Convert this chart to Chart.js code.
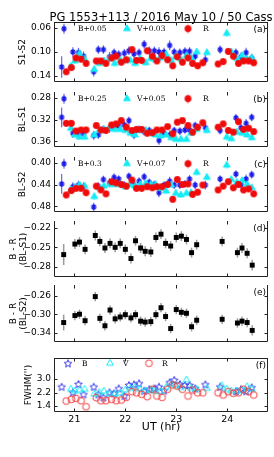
<!DOCTYPE html>
<html>
<head>
<meta charset="utf-8">
<script src="https://cdn.jsdelivr.net/npm/chart.js@4.4.0/dist/chart.umd.min.js"></script>
<style>
  html, body { margin: 0; padding: 0; background: #fff; }
  #wrap { position: relative; width: 274px; height: 457px; overflow: hidden; }
  canvas { position: absolute; left: 0; }
</style>
</head>
<body>
<div id="wrap">
  <canvas id="pa" width="274" height="87" style="top:0px"></canvas>
  <canvas id="pb" width="274" height="65" style="top:87px"></canvas>
  <canvas id="pc" width="274" height="65" style="top:152px"></canvas>
  <canvas id="pd" width="274" height="64" style="top:217px"></canvas>
  <canvas id="pe" width="274" height="65" style="top:281px"></canvas>
  <canvas id="pf" width="274" height="107" style="top:350px"></canvas>
</div>
<script>
// ---- observation times (UT, hr) ----
const tB = [20.75, 20.89, 20.97, 21.08, 21.18, 21.38, 21.47, 21.57, 21.69, 21.78, 21.87, 21.98, 22.07, 22.17, 22.27, 22.37, 22.47, 22.57, 22.66, 22.76, 22.87, 22.96, 23.07, 23.17, 23.26, 23.37, 23.57, 23.77, 23.86, 23.97, 24.07, 24.17, 24.27, 24.37, 24.48];
const tV = [20.81, 20.93, 21.01, 21.10, 21.20, 21.39, 21.49, 21.58, 21.69, 21.79, 21.90, 22.00, 22.10, 22.19, 22.29, 22.40, 22.50, 22.59, 22.69, 22.80, 22.90, 22.99, 23.09, 23.20, 23.29, 23.40, 23.60, 23.79, 23.89, 23.99, 24.08, 24.19, 24.29, 24.39, 24.48];
const tR = [20.84, 20.94, 21.03, 21.13, 21.23, 21.43, 21.52, 21.62, 21.73, 21.82, 21.92, 22.02, 22.13, 22.22, 22.32, 22.43, 22.53, 22.62, 22.72, 22.83, 22.93, 23.02, 23.12, 23.23, 23.32, 23.42, 23.52, 23.82, 23.92, 24.02, 24.12, 24.22, 24.32, 24.42, 24.52];
const tBR = [20.79, 21.01, 21.10, 21.21, 21.41, 21.50, 21.60, 21.70, 21.80, 21.90, 22.00, 22.11, 22.20, 22.30, 22.39, 22.50, 22.60, 22.70, 22.79, 22.89, 23.00, 23.10, 23.20, 23.30, 23.40, 23.90, 24.20, 24.29, 24.39, 24.49];

// ---- (a) S1-S2 ----
const bA = [0.125, null, 0.100, 0.101, 0.107, 0.133, 0.096, 0.096, 0.108, 0.101, 0.104, 0.102, 0.098, 0.103, 0.101, 0.087, 0.098, 0.098, 0.100, 0.100, 0.089, 0.100, 0.101, 0.099, 0.099, 0.107, 0.113, null, 0.096, null, null, 0.101, 0.108, 0.101, 0.110];
const vA = [null, 0.124, 0.115, 0.103, 0.112, 0.129, 0.119, 0.115, 0.111, 0.119, 0.114, 0.114, 0.114, 0.119, 0.111, 0.118, 0.111, 0.113, 0.110, 0.104, 0.114, 0.108, 0.112, 0.106, 0.110, 0.100, 0.101, null, null, 0.069, 0.100, 0.111, 0.106, 0.112, 0.110];
const rA = [0.133, 0.126, 0.110, 0.112, 0.119, 0.115, 0.115, 0.119, 0.110, 0.107, 0.117, 0.113, 0.096, 0.114, 0.114, 0.098, 0.107, 0.115, 0.106, 0.113, 0.123, 0.108, 0.117, 0.110, 0.119, 0.123, 0.118, 0.120, 0.116, 0.099, 0.107, 0.119, 0.115, 0.115, 0.118];

// ---- (b) BL-S1 ----
const bB = [0.316, null, 0.345, 0.348, 0.346, 0.349, 0.348, 0.338, 0.336, 0.333, 0.332, 0.330, 0.322, 0.348, 0.338, 0.342, 0.340, 0.344, 0.358, 0.345, 0.348, 0.340, 0.341, 0.339, 0.339, 0.331, 0.335, null, 0.340, null, null, 0.317, 0.335, 0.327, 0.316];
const vB = [null, 0.336, 0.348, 0.352, 0.352, 0.348, 0.340, 0.338, 0.336, 0.338, 0.338, 0.340, 0.345, 0.348, 0.340, 0.340, 0.345, 0.348, 0.350, 0.348, 0.353, 0.356, 0.356, 0.356, 0.345, 0.338, 0.340, null, null, 0.352, 0.355, 0.343, 0.345, 0.348, 0.353];
const rB = [0.327, 0.327, 0.341, 0.339, 0.339, 0.331, 0.339, 0.340, 0.330, 0.328, 0.322, 0.334, 0.340, 0.338, 0.338, 0.345, 0.344, 0.339, 0.339, 0.333, 0.346, 0.325, 0.322, 0.331, 0.343, 0.334, 0.326, 0.334, 0.328, 0.340, 0.343, 0.324, 0.338, 0.336, 0.342];

// ---- (c) BL-S2 ----
const bC = [0.439, null, 0.444, 0.441, 0.444, 0.481, 0.443, 0.431, 0.437, 0.427, 0.430, 0.441, 0.425, 0.441, 0.434, 0.426, 0.436, 0.440, 0.455, 0.441, 0.434, 0.441, 0.441, 0.439, 0.430, 0.441, 0.441, null, 0.430, null, null, 0.421, 0.440, 0.430, 0.422];
const vC = [null, 0.450, 0.445, 0.441, 0.443, 0.462, 0.446, 0.443, 0.440, 0.440, 0.440, 0.444, 0.440, 0.443, 0.440, 0.438, 0.440, 0.440, 0.447, 0.452, 0.441, 0.456, 0.459, 0.456, 0.455, 0.418, 0.427, null, null, 0.405, 0.431, 0.436, 0.433, 0.440, 0.446];
const rC = [0.459, 0.451, 0.447, 0.447, 0.455, 0.443, 0.450, 0.457, 0.435, 0.437, 0.440, 0.443, 0.432, 0.447, 0.447, 0.444, 0.446, 0.444, 0.444, 0.440, 0.467, 0.431, 0.440, 0.439, 0.458, 0.454, 0.441, 0.450, 0.443, 0.435, 0.446, 0.440, 0.450, 0.448, 0.457];

// error bars for the differential light curves
const errB = [0.018, null, 0.008, 0.008, 0.008, 0.008, 0.007, 0.007, 0.008, 0.007, 0.007, 0.007, 0.007, 0.008, 0.007, 0.007, 0.007, 0.007, 0.008, 0.007, 0.008, 0.007, 0.007, 0.007, 0.007, 0.007, 0.008, null, 0.007, null, null, 0.007, 0.007, 0.008, 0.007];
const errV = [null, 0.005, 0.005, 0.005, 0.005, 0.006, 0.005, 0.005, 0.005, 0.005, 0.005, 0.005, 0.005, 0.005, 0.005, 0.005, 0.005, 0.005, 0.005, 0.005, 0.005, 0.005, 0.005, 0.005, 0.005, 0.005, 0.005, null, null, 0.006, 0.005, 0.005, 0.005, 0.005, 0.005];
const errR = [0.005, 0.005, 0.005, 0.005, 0.005, 0.005, 0.005, 0.005, 0.005, 0.005, 0.005, 0.005, 0.005, 0.005, 0.005, 0.005, 0.005, 0.005, 0.005, 0.005, 0.005, 0.005, 0.005, 0.005, 0.005, 0.005, 0.005, 0.005, 0.005, 0.005, 0.005, 0.005, 0.005, 0.005, 0.005];

// ---- (d), (e) B - R colours ----
const brS1 = [-0.261, -0.245, -0.242, -0.253, -0.232, -0.241, -0.251, -0.244, -0.250, -0.244, -0.253, -0.267, -0.240, -0.251, -0.256, -0.257, -0.235, -0.230, -0.244, -0.248, -0.235, -0.233, -0.238, -0.258, -0.246, -0.241, -0.258, -0.251, -0.259, -0.277];
const errS1 = [0.016, 0.0075, 0.0075, 0.0075, 0.0075, 0.0075, 0.0075, 0.0075, 0.0075, 0.0075, 0.0075, 0.0075, 0.0075, 0.0075, 0.0075, 0.0075, 0.0075, 0.0075, 0.0075, 0.0075, 0.0075, 0.0075, 0.0075, 0.0075, 0.0075, 0.0075, 0.0075, 0.0075, 0.0075, 0.008];
const brS2 = [-0.318, -0.303, -0.300, -0.314, -0.262, -0.309, -0.325, -0.291, -0.310, -0.306, -0.301, -0.308, -0.301, -0.315, -0.317, -0.316, -0.301, -0.286, -0.305, -0.331, -0.290, -0.296, -0.298, -0.327, -0.313, -0.311, -0.319, -0.315, -0.318, -0.335];
const errS2 = [0.017, 0.010, 0.010, 0.010, 0.010, 0.010, 0.010, 0.010, 0.010, 0.010, 0.010, 0.010, 0.010, 0.010, 0.010, 0.010, 0.010, 0.010, 0.010, 0.010, 0.010, 0.010, 0.010, 0.010, 0.010, 0.010, 0.010, 0.010, 0.010, 0.011];

// ---- (f) seeing ----
const fwhmB = [2.55, null, 2.22, 2.71, 2.10, 2.55, 2.10, 1.92, 2.22, 2.16, 2.45, 2.02, 2.65, 2.69, 2.75, 2.31, 2.40, 2.45, 2.55, 2.33, 2.81, 2.95, 2.71, 2.65, 2.65, 2.45, 2.69, null, 2.55, null, null, 2.29, 2.40, 2.29, 2.51];
const fwhmV = [null, 2.40, 2.29, 2.35, 2.40, 2.12, 2.20, 2.29, 2.12, 2.12, 2.16, 2.35, 2.45, 2.51, 2.40, 2.31, 2.35, 2.29, 2.25, 2.51, 2.69, 2.61, 2.51, 2.95, 2.45, 2.40, 2.45, null, 2.61, 2.40, 2.29, 2.29, 2.35, 2.55, 2.40];
const fwhmR = [1.70, 1.80, 1.86, 1.72, 1.36, 1.90, 1.72, 1.72, 1.80, 1.72, 1.76, 1.92, 2.25, 2.19, 2.10, 1.96, 2.40, 2.00, 1.92, 2.40, 2.65, 2.59, 2.40, 2.00, 2.35, 2.19, 2.19, 2.19, 2.06, 2.25, 2.16, 2.19, 2.40, 2.25, 2.06];

// ---- ticks ----
const xTicks = [21, 22, 23, 24];
const yTicksA = [0.06, 0.10, 0.14];
const yTicksB = [0.28, 0.32, 0.36];
const yTicksC = [0.40, 0.44, 0.48];
const yTicksD = [-0.22, -0.25, -0.28];
const yTicksE = [-0.26, -0.30, -0.34];
const yTicksF = [1.4, 2.2, 3.0];

const BLUE = "rgb(20,20,235)";
const CYAN = "rgb(20,235,245)";
const RED = "rgb(240,10,10)";
const STAR_BLUE = "rgb(60,60,235)";
const RED_OPEN = "rgb(245,60,60)";

Chart.defaults.font.family = "'DejaVu Sans', sans-serif";
Chart.defaults.color = "#000";

function pts(xs, ys, es) {
  return xs.map((x, i) => ({ x, y: ys[i], e: es ? es[i] : null }))
    .filter((p) => p.y !== null && p.y !== undefined);
}

// small marker sprites: used both as pointStyle and as legend handles
function sprite(kind, color, r, opts = {}) {
  const c = document.createElement("canvas");
  const s = Math.ceil(r * 2 + 4);
  c.width = s;
  c.height = s;
  const g = c.getContext("2d");
  const cx = s / 2, cy = s / 2;
  g.strokeStyle = color;
  g.fillStyle = opts.fill || color;
  g.lineWidth = opts.lw || 1;
  g.beginPath();
  if (kind === "star5") {
    for (let k = 0; k < 10; k++) {
      const ang = -Math.PI / 2 + (k * Math.PI) / 5;
      const rr = k % 2 ? r * 0.45 : r;
      const px = cx + rr * Math.cos(ang);
      const py = cy + 0.5 + rr * Math.sin(ang);
      if (k) g.lineTo(px, py); else g.moveTo(px, py);
    }
    g.closePath();
  } else if (kind === "triangle") {
    g.moveTo(cx, cy - r);
    g.lineTo(cx + r * 0.866, cy + r * 0.5);
    g.lineTo(cx - r * 0.866, cy + r * 0.5);
    g.closePath();
  } else if (kind === "circle") {
    g.arc(cx, cy, r, 0, Math.PI * 2);
  } else if (kind === "asterisk") {
    for (let k = 0; k < 4; k++) {
      const ang = (k * Math.PI) / 4;
      g.moveTo(cx - r * Math.cos(ang), cy - r * Math.sin(ang));
      g.lineTo(cx + r * Math.cos(ang), cy + r * Math.sin(ang));
    }
  }
  if (opts.filled) g.fill();
  if (opts.stroke !== false) g.stroke();
  return c;
}

const sprB = sprite("asterisk", BLUE, 3, { lw: 1.2 });
const sprV = sprite("triangle", CYAN, 3.9, { filled: true });
const sprR = sprite("circle", RED, 3.4, { filled: true, stroke: false });
const sprBo = sprite("star5", STAR_BLUE, 4);
const sprVo = sprite("triangle", CYAN, 3.9);
const sprRo = sprite("circle", RED_OPEN, 3.4);

const panelPlugin = {
  id: "panel",
  beforeDatasetsDraw(chart) {
    const { ctx, chartArea: a, scales: { x, y } } = chart;
    ctx.save();
    ctx.beginPath();
    ctx.rect(a.left, a.top, a.right - a.left, a.bottom - a.top);
    ctx.clip();
    chart.data.datasets.forEach((ds) => {
      if (!ds.errorColor) return;
      ctx.strokeStyle = ds.errorColor;
      ctx.lineWidth = ds.errorWidth || 1.2;
      ds.data.forEach((p) => {
        if (p.e === null || p.e === undefined) return;
        const px = x.getPixelForValue(p.x);
        ctx.beginPath();
        ctx.moveTo(px, y.getPixelForValue(p.y - p.e));
        ctx.lineTo(px, y.getPixelForValue(p.y + p.e));
        ctx.stroke();
      });
    });
    ctx.restore();
  },
  afterDraw(chart, args, opts) {
    const { ctx, chartArea: a, scales: { x, y } } = chart;
    ctx.save();
    // frame
    ctx.strokeStyle = "#222";
    ctx.lineWidth = 1;
    const L = a.left + 0.5, R = a.right - 0.5, T = a.top + 0.5, B = a.bottom - 0.5;
    ctx.beginPath();
    if (opts.drawTop) { ctx.moveTo(L, T); ctx.lineTo(R, T); }
    ctx.moveTo(R, a.top); ctx.lineTo(R, B);
    ctx.lineTo(L, B);
    ctx.lineTo(L, a.top);
    ctx.stroke();
    // inward ticks
    const tl = 3.5;
    ctx.beginPath();
    xTicks.forEach((v) => {
      const px = Math.round(x.getPixelForValue(v)) + 0.5;
      ctx.moveTo(px, a.top); ctx.lineTo(px, a.top + tl);
      ctx.moveTo(px, a.bottom); ctx.lineTo(px, a.bottom - tl);
    });
    y.ticks.forEach((t) => {
      const py = Math.round(y.getPixelForValue(t.value)) + 0.5;
      ctx.moveTo(a.left, py); ctx.lineTo(a.left + tl, py);
      ctx.moveTo(a.right, py); ctx.lineTo(a.right - tl, py);
    });
    ctx.stroke();
    ctx.restore();

    // panel letter
    ctx.save();
    ctx.fillStyle = "#000";
    ctx.font = "9px 'DejaVu Sans'";
    ctx.textAlign = "right";
    ctx.textBaseline = "middle";
    ctx.fillText(opts.letter, a.right - 2, a.top + 8);
    ctx.restore();

    // legend
    (opts.legend || []).forEach((item) => {
      const ly = a.top + opts.legendY;
      ctx.save();
      if (item.bar) {
        ctx.strokeStyle = item.bar;
        ctx.lineWidth = 1.2;
        ctx.beginPath();
        ctx.moveTo(item.mx, ly - 5);
        ctx.lineTo(item.mx, ly + 5);
        ctx.stroke();
      }
      const im = item.image;
      ctx.drawImage(im, item.mx - im.width / 2, ly - im.height / 2);
      ctx.fillStyle = "#000";
      ctx.font = "7.5px 'DejaVu Serif'";
      ctx.textAlign = "left";
      ctx.textBaseline = "middle";
      ctx.fillText(item.text, item.tx, ly + 0.5);
      ctx.restore();
    });

    // figure title
    if (opts.title) {
      ctx.save();
      ctx.fillStyle = "#000";
      ctx.font = "11.5px 'DejaVu Sans'";
      ctx.textAlign = "center";
      ctx.textBaseline = "alphabetic";
      ctx.fillText(opts.title, (a.left + a.right) / 2, 20.5);
      ctx.restore();
    }
  }
};

function fixY(ticks) {
  return {
    afterBuildTicks: (s) => { s.ticks = ticks.map((v) => ({ value: v })); },
    afterFit: (s) => { s.width = 54; s.paddingTop = 0; s.paddingBottom = 0; }
  };
}

function makePanel(id, c) {
  const xScale = {
    type: "linear",
    min: 20.6,
    max: 24.8,
    display: !!c.xTitle,
    grid: { display: false, drawTicks: false },
    border: { display: false },
    afterBuildTicks: (s) => { s.ticks = xTicks.map((v) => ({ value: v })); },
    ticks: { padding: 2, font: { size: 9.5 }, color: "#000" },
    title: c.xTitle ? { display: true, text: c.xTitle, font: { size: 11 }, color: "#000", padding: { top: 0, bottom: 23 } } : { display: false },
    afterFit: (s) => { if (c.xTitle) { s.height = 45; } s.paddingLeft = 0; s.paddingRight = 0; }
  };
  const yScale = Object.assign({
    type: "linear",
    min: c.yMin,
    max: c.yMax,
    reverse: !!c.reverse,
    grid: { display: false, drawTicks: false },
    border: { display: false },
    ticks: {
      padding: 3,
      font: { size: 9 },
      color: "#000",
      callback: (v) => v.toFixed(c.dec).replace("-", "\u2212")
    },
    title: {
      display: true,
      text: c.yTitle,
      color: "#000",
      font: { size: 9, lineHeight: 1.15 },
      padding: { top: c.yTitlePad, bottom: 0 }
    }
  }, fixY(c.yTicks));

  return new Chart(document.getElementById(id), {
    type: "scatter",
    data: { datasets: c.datasets },
    options: {
      responsive: false,
      animation: false,
      events: [],
      layout: { padding: { top: c.padTop, right: 6, bottom: 0, left: 0 } },
      plugins: {
        legend: { display: false },
        tooltip: { enabled: false },
        panel: c.panel
      },
      scales: { x: xScale, y: yScale }
    },
    plugins: [panelPlugin]
  });
}

function bvrSets(b, v, r) {
  return [
    { data: pts(tB, b, errB), pointStyle: sprB, pointRadius: 3, errorColor: "rgba(40,40,235,0.7)", order: 3 },
    { data: pts(tV, v, errV), pointStyle: sprV, pointRadius: 3.9, errorColor: "rgba(20,235,245,0.5)", order: 2 },
    { data: pts(tR, r, errR), pointStyle: sprR, pointRadius: 3.4, errorColor: "rgba(240,80,80,0.45)", order: 1 }
  ];
}

function bvrLegend(bText, vText) {
  return [
    { image: sprB, bar: "rgba(40,40,235,0.7)", mx: 64, tx: 78, text: bText },
    { image: sprV, mx: 127, tx: 137, text: vText },
    { image: sprR, bar: "rgba(240,80,80,0.45)", mx: 188, tx: 203, text: "R" }
  ];
}

makePanel("pa", {
  padTop: 22, yMin: 0.05, yMax: 0.15, reverse: true, dec: 2, yTicks: yTicksA,
  yTitle: "S1-S2", yTitlePad: 17,
  datasets: bvrSets(bA, vA, rA),
  panel: { letter: "(a)", drawTop: true, legendY: 6.7, legend: bvrLegend("B+0.05", "V+0.03"), title: "PG 1553+113 / 2016 May 10 / 50 Cass" }
});

makePanel("pb", {
  padTop: 0, yMin: 0.27, yMax: 0.37, reverse: true, dec: 2, yTicks: yTicksB,
  yTitle: "BL-S1", yTitlePad: 17,
  datasets: bvrSets(bB, vB, rB),
  panel: { letter: "(b)", drawTop: false, legendY: 6.7, legend: bvrLegend("B+0.25", "V+0.05") }
});

makePanel("pc", {
  padTop: 0, yMin: 0.39, yMax: 0.49, reverse: true, dec: 2, yTicks: yTicksC,
  yTitle: "BL-S2", yTitlePad: 17,
  datasets: bvrSets(bC, vC, rC),
  panel: { letter: "(c)", drawTop: false, legendY: 6.7, legend: bvrLegend("B+0.3", "V+0.07") }
});

function colourSet(ys, es) {
  return [{ data: pts(tBR, ys, es), pointStyle: "rect", pointRadius: 3.5, borderWidth: 0, borderColor: "#000", backgroundColor: "#000", errorColor: "#9a9a9a", errorWidth: 1.5 }];
}

makePanel("pd", {
  padTop: 0, yMin: -0.295, yMax: -0.21, dec: 2, yTicks: yTicksD,
  yTitle: ["B - R", "(BL-S1)"], yTitlePad: 8,
  datasets: colourSet(brS1, errS1),
  panel: { letter: "(d)", drawTop: false, legend: [] }
});

makePanel("pe", {
  padTop: 0, yMin: -0.36, yMax: -0.237, dec: 2, yTicks: yTicksE,
  yTitle: ["B - R", "(BL-S2)"], yTitlePad: 8,
  datasets: colourSet(brS2, errS2),
  panel: { letter: "(e)", drawTop: false, legend: [] }
});

makePanel("pf", {
  padTop: 8, yMin: 1.05, yMax: 4.25, dec: 1, yTicks: yTicksF,
  yTitle: "FWHM('')", yTitlePad: 23, xTitle: "UT (hr)",
  datasets: [
    { data: pts(tB, fwhmB), pointStyle: sprBo, pointRadius: 4, order: 3 },
    { data: pts(tV, fwhmV), pointStyle: sprVo, pointRadius: 3.9, order: 2 },
    { data: pts(tR, fwhmR), pointStyle: sprRo, pointRadius: 3.4, order: 1 }
  ],
  panel: {
    letter: "(f)", drawTop: true, legendY: 5.3,
    legend: [
      { image: sprBo, mx: 68, tx: 82, text: "B" },
      { image: sprVo, mx: 110, tx: 123, text: "V" },
      { image: sprRo, mx: 149, tx: 162, text: "R" }
    ]
  }
});
</script>
</body>
</html>
